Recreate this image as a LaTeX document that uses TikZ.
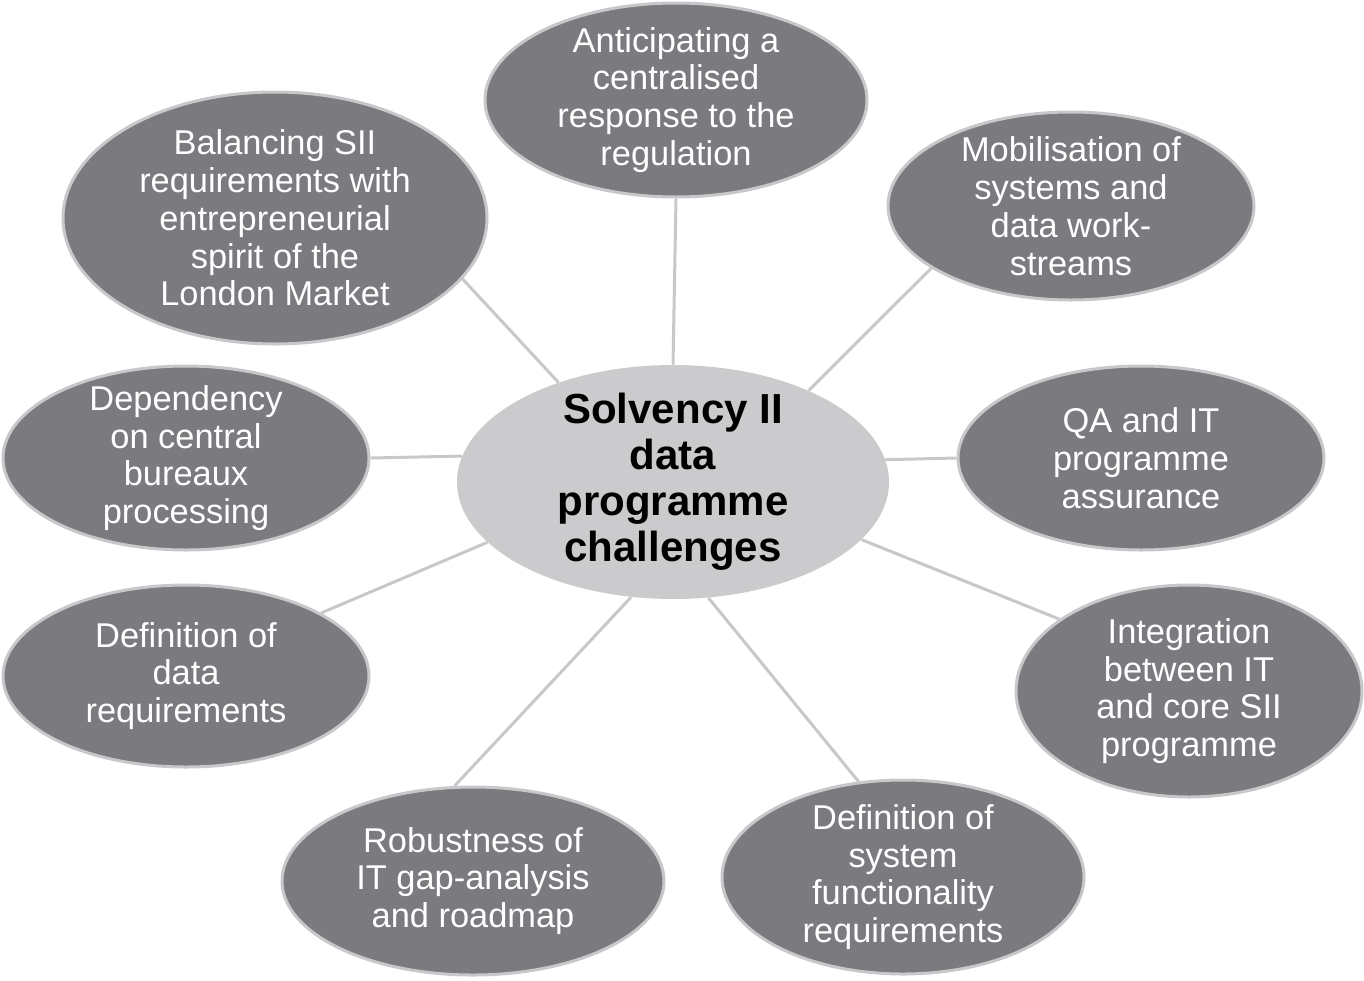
\documentclass[tikz,border=0pt]{standalone}
\usepackage{fontspec}
\setmainfont{Liberation Sans}
\usepackage{tikz}
\usetikzlibrary{shapes,positioning}
\definecolor{bubblegray}{HTML}{7B7A7F}
\definecolor{rimgray}{HTML}{C8C8CA}
\definecolor{hubgray}{HTML}{CBCBCD}
\tikzstyle{bubble} = [ellipse, draw=rimgray, line width=1.5pt, fill=bubblegray,
    text=white, align=center, inner xsep=-40pt, inner ysep=-40pt,
    font=\fontsize{17.2}{18.9}\selectfont]
\tikzstyle{hub} = [ellipse, fill=hubgray, text=black, align=center,
    inner xsep=-40pt, inner ysep=-40pt, minimum width=216pt, minimum height=117pt,
    font=\fontsize{21}{23}\selectfont\bfseries]
\tikzstyle{line} = [draw=rimgray, line width=1.5pt]

\begin{document}
\begin{tikzpicture}[x=0.5pt, y=-0.5pt]
    \useasboundingbox (0,0) rectangle (1364,980);
    % Place nodes
    \node [hub] (hub) at (673,482) {\raisebox{-1.5pt}{\parbox{10em}{\centering Solvency II\\data\\programme\\challenges}}};
    \node [bubble, minimum width=191pt, minimum height=97pt] (regulation) at (676,100)
        {Anticipating a\\centralised\\response to the\\regulation};
    \node [bubble, minimum width=183pt, minimum height=94pt] (mobilisation) at (1071,206)
        {Mobilisation of\\systems and\\data work-\\streams};
    \node [bubble, minimum width=183pt, minimum height=92pt] (assurance) at (1141,458)
        {QA and IT\\programme\\assurance};
    \node [bubble, minimum width=173pt, minimum height=106pt] (integration) at (1189,691)
        {Integration\\between IT\\and core SII\\programme};
    \node [bubble, minimum width=181pt, minimum height=97pt] (functionality) at (903,877)
        {Definition of\\system\\functionality\\requirements};
    \node [bubble, minimum width=191pt, minimum height=94pt] (roadmap) at (473,881)
        {Robustness of\\IT gap-analysis\\and roadmap};
    \node [bubble, minimum width=183pt, minimum height=91pt] (datareq) at (186,676)
        {Definition of\\data\\requirements};
    \node [bubble, minimum width=183pt, minimum height=92pt] (bureaux) at (186,458)
        {Dependency\\on central\\bureaux\\processing};
    \node [bubble, minimum width=212pt, minimum height=126pt] (market) at (275,218)
        {Balancing SII\\requirements with\\entrepreneurial\\spirit of the\\London Market};
    % Draw edges
    \path [line] (hub.90) -- (regulation.270);
    \path [line] (hub.34) -- (mobilisation.204);
    \path [line] (hub.6.5) -- (assurance.180);
    \path [line] (hub.-17) -- (integration.151.5);
    \path [line] (hub.-73) -- (functionality.115);
    \path [line] (hub.250) -- (roadmap.101);
    \path [line] (hub.198) -- (datareq.25);
    \path [line] (hub.173.5) -- (bureaux.0);
    \path [line] (hub.139) -- (market.-18);
\end{tikzpicture}
\end{document}
